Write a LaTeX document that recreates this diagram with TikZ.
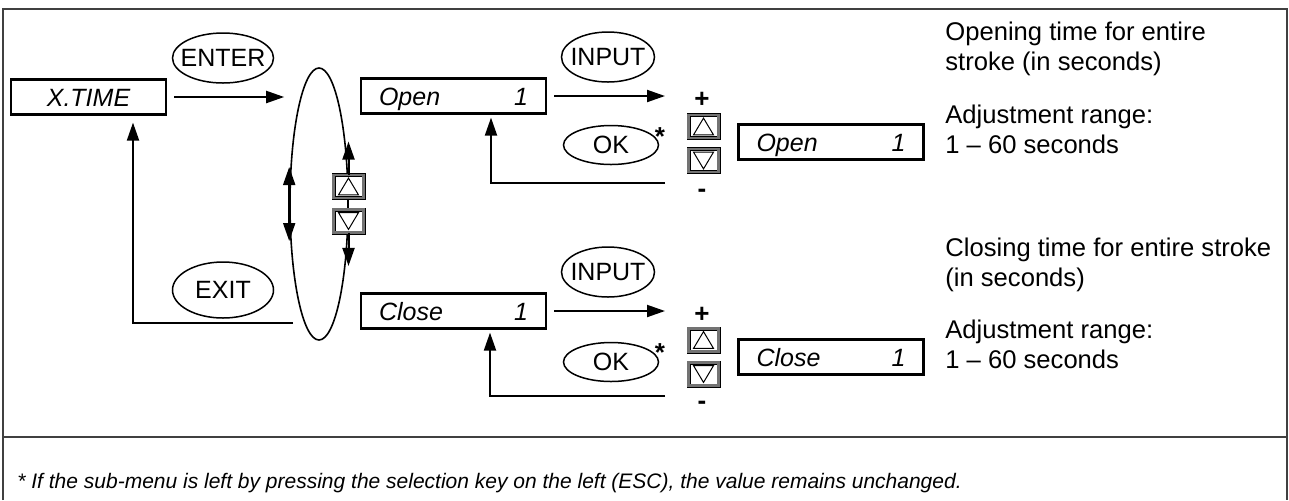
\documentclass[tikz,border=0pt]{standalone}
\usepackage{fontspec}
\setmainfont{Liberation Sans}
\usetikzlibrary{arrows.meta,shapes.geometric}

\newcommand{\lblfont}{\fontsize{12.5}{15}\selectfont}

\begin{document}
\begin{tikzpicture}[x=0.5pt, y=-0.5pt, >={Triangle[length=9pt,width=6pt]},
  frame/.style={draw=black!75, line width=0.7pt},
  namebox/.style={draw, line width=1.1pt, minimum width=77.5pt, minimum height=17.5pt,
    inner sep=0pt, text height=9pt, text depth=0pt, font=\lblfont\itshape},
  valbox/.style={draw, line width=1.1pt, minimum width=92.5pt, minimum height=17.5pt,
    text width=74.5pt, inner xsep=9pt, inner ysep=0pt, text height=9pt, text depth=0pt,
    font=\lblfont\itshape},
  keyoval/.style={draw, ellipse, line width=0.75pt, inner xsep=-6pt, inner ysep=0pt,
    minimum width=50.5pt, minimum height=25pt, font=\lblfont},
  keybtn/.style={draw, fill=white, double=black!55, double distance=1.1pt, line width=0.45pt,
    minimum width=15pt, minimum height=11.5pt, inner sep=0pt},
  keyup/.style={keybtn, path picture={\draw[line width=0.5pt]
    ([xshift=-5pt,yshift=-4.2pt]path picture bounding box.center) --
    ([xshift=5pt,yshift=-4.2pt]path picture bounding box.center) --
    ([yshift=4.2pt]path picture bounding box.center) -- cycle;}},
  keydn/.style={keybtn, path picture={\draw[line width=0.5pt]
    ([xshift=-5pt,yshift=4.2pt]path picture bounding box.center) --
    ([xshift=5pt,yshift=4.2pt]path picture bounding box.center) --
    ([yshift=-4.2pt]path picture bounding box.center) -- cycle;}},
  sign/.style={anchor=base, inner sep=0pt, font=\fontsize{13}{13}\selectfont\bfseries},
  desc/.style={anchor=base west, align=left, inner sep=0pt,
    font=\fontsize{12.8}{15}\selectfont},
  arr/.style={->, line width=1pt}]
\useasboundingbox (0,0) rectangle (1289,500);
% frame and footnote row
\draw[frame] (3,500) -- (3,9) -- (1287,9) -- (1287,500);
\draw[frame] (3,437) -- (1287,437);

% menu level
\node[namebox] (xtime) at (88.5,97) {X.TIME};
\node[keyoval] (enter) at (223,58) {ENTER};
\node[draw, ellipse, line width=0.8pt, minimum width=29pt, minimum height=136pt,
  inner sep=0pt] (loop) at (319,204) {};
\node[keyup] (upL) at (348.5,186.5) {};
\node[keydn] (dnL) at (348.5,221) {};
\node[keyoval, minimum height=28pt] (exit) at (223,290) {EXIT};
\coordinate (backpt) at (293,323);

\draw[arr, shorten <=3.5pt, shorten >=2.5pt] (xtime.east) -- (xtime.east -| loop.west);
\draw[arr, <->] ([yshift=18.5pt]loop.west) -- ([yshift=-18.5pt]loop.west);
\draw[arr] (upL.north) -- ([yshift=16.5pt]upL.north);
\draw[arr] (dnL.south) -- ([yshift=-16.5pt]dnL.south);
\draw[arr, shorten >=3.5pt] (backpt) -| ([xshift=22.25pt]xtime.south);

% opening time
\node[valbox] (open) at (453.5,96) {Open\hfill 1};
\node[keyoval, minimum width=46.5pt] (inA) at (608,57) {INPUT};
\node[keyoval, minimum width=47.5pt, minimum height=19.5pt] (okA) at (611,145) {OK};
\node[sign] (starA) at (660,145) {*};
\node[sign] (plusA) at (702,107.5) {+};
\node[keyup] (upA) at (703.5,126.5) {};
\node[keydn] (dnA) at (703.5,160.5) {};
\node[sign] (minusA) at (702,197) {-};
\node[valbox] (openV) at (831,142) {Open\hfill 1};
\coordinate (edgeA) at (665,183);
\node[desc] (textA) at (945,70) {Opening time for entire\\stroke (in seconds)};
\node[desc] (rangeA) at (945,153) {Adjustment range:\\1 -- 60 seconds};

\draw[arr, shorten <=3.5pt] (open.east) -- (open.east -| edgeA);
\draw[arr, shorten >=1.5pt] (edgeA) -| ([xshift=18.75pt]open.south);

% closing time
\node[valbox] (close) at (453.5,311) {Close\hfill 1};
\node[keyoval, minimum width=46.5pt] (inB) at (608,272) {INPUT};
\node[keyoval, minimum width=47.5pt, minimum height=19.5pt] (okB) at (611,362) {OK};
\node[sign] (starB) at (660,361) {*};
\node[sign] (plusB) at (702,322.5) {+};
\node[keyup] (upB) at (703.5,340) {};
\node[keydn] (dnB) at (703.5,374) {};
\node[sign] (minusB) at (702,409) {-};
\node[valbox] (closeV) at (831,357) {Close\hfill 1};
\coordinate (edgeB) at (665,396);
\node[desc] (textB) at (945,286) {Closing time for entire stroke\\(in seconds)};
\node[desc] (rangeB) at (945,368) {Adjustment range:\\1 -- 60 seconds};

\draw[arr, shorten <=3.5pt] (close.east) -- (close.east -| edgeB);
\draw[arr, shorten >=1.5pt] (edgeB) -| ([xshift=18.25pt]close.south);

\node[anchor=base west, inner sep=0pt, font=\fontsize{10.5}{12}\selectfont\itshape] (note)
  at (17,488) {* If the sub-menu is left by pressing the selection key on the left (ESC), the value remains unchanged.};
\end{tikzpicture}
\end{document}
